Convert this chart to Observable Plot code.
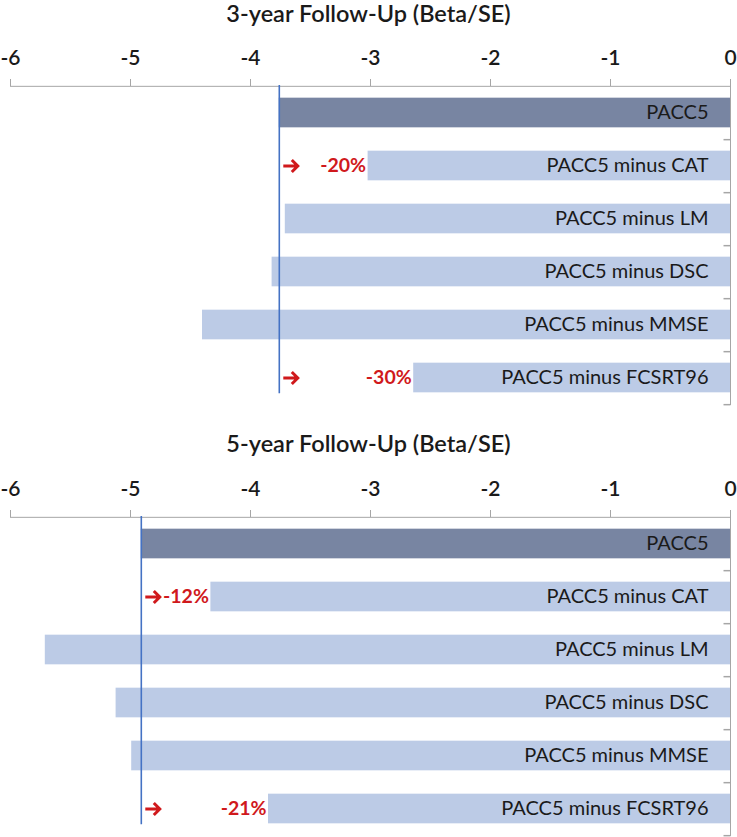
<!DOCTYPE html>
<html><head><meta charset="utf-8">
<script src="https://cdn.jsdelivr.net/npm/d3@7"></script>
<script src="https://cdn.jsdelivr.net/npm/@observablehq/plot@0.6"></script>
<style>
body{margin:0;background:#fff;font-family:Lato,"Open Sans",sans-serif;}
.title{width:737px;height:26px;line-height:26px;font-size:23.5px;text-align:center;color:#1a1a1a;font-weight:600;}
svg{display:block}
</style></head><body><div id="chart"></div>
<script>
const categories = ["PACC5","PACC5 minus CAT","PACC5 minus LM","PACC5 minus DSC","PACC5 minus MMSE","PACC5 minus FCSRT96"];
const values3yr = [-3.76,-3.02,-3.71,-3.82,-4.40,-2.64];
const values5yr = [-4.91,-4.33,-5.71,-5.12,-4.99,-3.85];
const annot3yr = ["","-20%","","","","-30%"];
const annot5yr = ["","-12%","","","","-21%"];
const xTicks = [-6,-5,-4,-3,-2,-1,0];
const xTickLabels = ["-6","-5","-4","-3","-2","-1","0"];
const titles = ["3-year Follow-Up (Beta/SE)","5-year Follow-Up (Beta/SE)"];

const gray = "#a6a6a6", red = "#d0191c", blue = "#4472c4";
const tickSym = {draw(ctx){ ctx.moveTo(0,0); ctx.lineTo(-7,0); }};
const arrowSym = {draw(ctx){ ctx.moveTo(4,0); ctx.lineTo(18.5,0); ctx.moveTo(12.5,-6); ctx.lineTo(18.5,0); ctx.lineTo(12.5,6); }};

function panel(values, annots, mt, h, mb) {
  const rows = categories.map((c,i)=>({name:c, value:values[i], note:annots[i]}));
  const notes = rows.filter(d => d.note);
  const ref = values[0];
  const step = (h - mt - mb) / categories.length;
  const inset = step * 0.21875;
  return Plot.plot({
    width: 737, height: h, marginTop: mt, marginBottom: mb, marginLeft: 10, marginRight: 7,
    style: {fontFamily: "Lato, 'Open Sans', sans-serif", background: "#fff", overflow: "visible", color: "#1a1a1a"},
    x: {domain: [-6, 0], axis: null},
    y: {domain: categories, padding: 0, axis: null},
    marks: [
      Plot.barX(rows, {x: "value", y: "name", fill: d => d.name === categories[0] ? "#7885a2" : "#bccbe6", insetTop: inset, insetBottom: inset}),
      Plot.ruleX([0], {stroke: gray}),
      Plot.ruleY([categories[0]], {dy: -step/2, stroke: gray}),
      Plot.dot(categories, {y: d => d, frameAnchor: "right", dy: step/2, symbol: tickSym, stroke: gray, fill: "none"}),
      Plot.axisX(xTicks, {anchor: "top", label: null, tickSize: 7, tickPadding: 14, tickFormat: d => xTickLabels[xTicks.indexOf(d)], fontSize: 21, fontWeight: 600, stroke: gray, fill: "#1a1a1a"}),
      Plot.ruleX([ref], {stroke: blue, strokeWidth: 1.6, insetBottom: inset}),
      Plot.text(rows, {y: "name", text: "name", frameAnchor: "right", textAnchor: "end", dx: -22, fontSize: 20, fill: "#1a1a1a"}),
      Plot.text(notes, {x: "value", y: "name", text: "note", textAnchor: "end", dx: -2, fill: red, fontWeight: "bold", fontSize: 19.5}),
      Plot.dot(notes, {x: () => ref, y: "name", symbol: arrowSym, stroke: red, strokeWidth: 3, fill: "none", strokeLinejoin: "miter", strokeLinecap: "butt"})
    ]
  });
}

const root = document.getElementById("chart");
function addTitle(t){ const d = document.createElement("div"); d.className = "title"; d.textContent = t; root.appendChild(d); }
addTitle(titles[0]);
root.appendChild(panel(values3yr, annot3yr, 59, 404, 25));
addTitle(titles[1]);
root.appendChild(panel(values5yr, annot5yr, 60, 385, 5));
</script></body></html>
